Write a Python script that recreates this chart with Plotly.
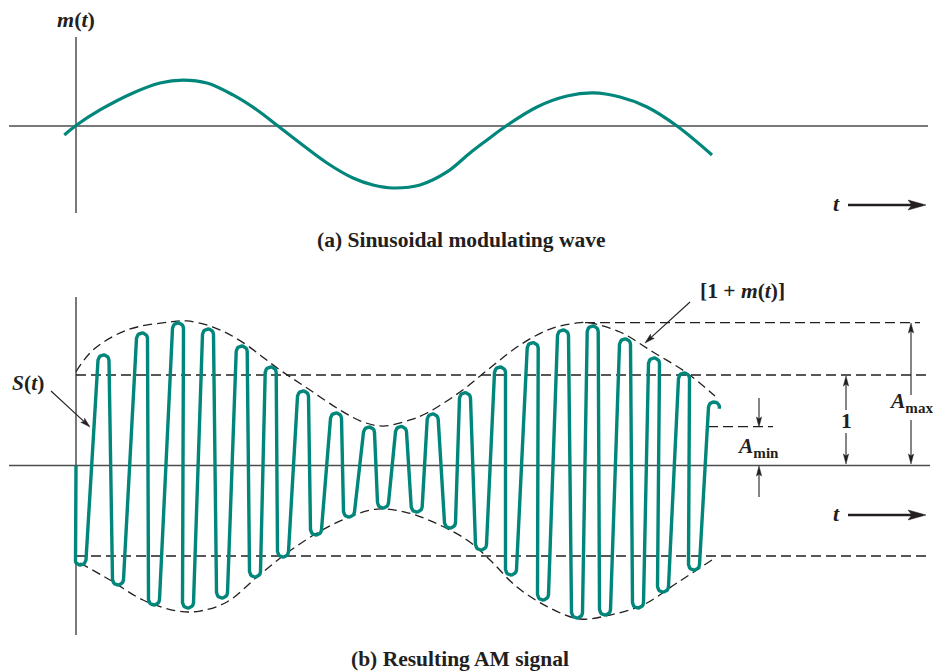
import math
import plotly.graph_objects as go

W, H = 941, 671
OFF = 8  # page body margin offset (px)

# ---------------- data ----------------
# (a) modulating wave m(t): time t, value m
m_t = [-0.117, 0.007, 0.24, 0.57, 0.84, 1.07, 1.31, 1.57, 1.81, 2.02, 2.24, 2.51,
       2.77, 2.97, 3.17, 3.44, 3.71, 3.94, 4.11, 4.30, 4.61, 4.91, 5.17, 5.44,
       5.71, 6.01, 6.36]
m_val = [-0.099, 0.011, 0.177, 0.365, 0.475, 0.508, 0.475, 0.343, 0.177, 0.0,
         -0.188, -0.409, -0.575, -0.652, -0.685, -0.652, -0.508, -0.298, -0.155,
         0.0, 0.210, 0.331, 0.365, 0.320, 0.210, 0.0, -0.320]

# (b) AM signal: start point then alternating trough / peak of the carrier
carrier_t = [0.0, 0.045, 0.275, 0.42, 0.66, 0.78, 1.02, 1.12, 1.32, 1.46, 1.657,
             1.79, 1.947, 2.07, 2.27, 2.40, 2.60, 2.73, 2.93, 3.07, 3.25, 3.407,
             3.567, 3.74, 3.89, 4.05, 4.24, 4.35, 4.567, 4.67, 4.87, 5.01, 5.167,
             5.29, 5.49, 5.62, 5.78, 5.87, 6.08, 6.18, 6.38]
carrier_s = [0.0, -1.099, 1.221, -1.320, 1.464, -1.541, 1.575, -1.575, 1.508,
             -1.464, 1.320, -1.232, 1.088, -1.011, 0.823, -0.768, 0.580, -0.569,
             0.425, -0.470, 0.431, -0.514, 0.569, -0.691, 0.804, -0.934, 1.088,
             -1.210, 1.357, -1.486, 1.497, -1.685, 1.541, -1.652, 1.398, -1.575,
             1.188, -1.398, 1.022, -1.155, 0.702]

# envelope [1 + m(t)] (upper) and its mirror (lower)
env_up_t = [0.0, 0.17, 0.51, 0.94, 1.11, 1.37, 1.64, 2.04, 2.34, 2.64, 2.87, 3.07,
            3.34, 3.51, 3.84, 4.14, 4.44, 4.74, 5.01, 5.14, 5.44, 5.77, 6.11, 6.39]
env_up_s = [1.036, 1.276, 1.497, 1.586, 1.597, 1.530, 1.380, 1.055, 0.834, 0.613,
            0.481, 0.436, 0.503, 0.580, 0.812, 1.077, 1.331, 1.508, 1.575, 1.575,
            1.475, 1.254, 1.022, 0.768]
env_lo_t = [0.04, 0.34, 0.67, 1.01, 1.24, 1.51, 1.81, 2.11, 2.41, 2.71, 3.01, 3.29,
            3.57, 3.91, 4.14, 4.41, 4.74, 5.04, 5.34, 5.67, 6.01, 6.36]
env_lo_s = [-1.077, -1.265, -1.486, -1.608, -1.608, -1.508, -1.232, -0.967, -0.746,
            -0.580, -0.481, -0.514, -0.624, -0.823, -1.044, -1.343, -1.575, -1.696,
            -1.652, -1.541, -1.298, -1.044]

LEVEL_ONE = 1.0
A_MAX = 1.578
A_MIN = 0.429

# ---------------- layout geometry (page pixels) ----------------
X0_PX = 76.0           # page column of t = 0
SX = 100.0             # px per t unit
SY = 90.5              # px per amplitude unit
A_AXIS_PX = 126.0      # page row of m = 0
B_AXIS_PX = 465.5      # page row of s = 0
A_TOP, A_BOT = 30, 250
B_TOP, B_BOT = 280, 650

TEAL = "#00867b"
INK = "#231f20"
AXC = "#4d4d4f"
FONT = "Liberation Serif"


def P(x, y):
    """page pixel -> paper fraction"""
    return (x - OFF) / W, 1 - (y - OFF) / H


def tx(px):
    return (px - X0_PX) / SX


# ---------------- carrier with rounded tips ----------------
R = 5.5
pts = [(t * SX, s * SY) for t, s in zip(carrier_t, carrier_s)]
circles = [(pts[0], 0.0, 0)]
for k, (X, Y) in enumerate(pts[1:]):
    if carrier_s[k + 1] < 0:
        circles.append(((X, Y + R), R, +1))
    else:
        circles.append(((X, Y - R), R, -1))


def tangent(c1, c2):
    (o1, r1, s1), (o2, r2, s2) = c1, c2
    dx, dy = o2[0] - o1[0], o2[1] - o1[1]
    c = s2 * r2 - s1 * r1
    lam = math.sqrt(max(dx * dx + dy * dy - c * c, 1e-9))
    phi = math.atan2(dy, dx) - math.atan2(c, lam)
    lx, ly = -math.sin(phi), math.cos(phi)
    t1 = (o1[0] - s1 * r1 * lx, o1[1] - s1 * r1 * ly)
    t2 = (o2[0] - s2 * r2 * lx, o2[1] - s2 * r2 * ly)
    return t1, t2


segs = [tangent(circles[i], circles[i + 1]) for i in range(len(circles) - 1)]
path = [segs[0][0]]
for i in range(1, len(circles)):
    (o, r, sgn) = circles[i]
    tin = segs[i - 1][1]
    path.append(tin)
    a_in = math.atan2(tin[1] - o[1], tin[0] - o[0])
    if i < len(circles) - 1:
        tout = segs[i][0]
        a_out = math.atan2(tout[1] - o[1], tout[0] - o[0])
    else:
        a_out = -0.25
    if sgn > 0:
        while a_out < a_in:
            a_out += 2 * math.pi
    else:
        while a_out > a_in:
            a_out -= 2 * math.pi
    n = 14
    for j in range(1, n + 1):
        a = a_in + (a_out - a_in) * j / n
        path.append((o[0] + r * math.cos(a), o[1] + r * math.sin(a)))

sig_t = [p[0] / SX for p in path]
sig_s = [p[1] / SY for p in path]

# ---------------- figure ----------------
fig = go.Figure()

fig.add_trace(go.Scatter(x=m_t, y=m_val, mode="lines", line_shape="spline",
                         line=dict(color=TEAL, width=3.2), xaxis="x", yaxis="y",
                         hoverinfo="skip"))
fig.add_trace(go.Scatter(x=env_up_t, y=env_up_s, mode="lines", line_shape="spline",
                         line=dict(color=INK, width=1.3, dash="9px,5px"),
                         xaxis="x2", yaxis="y2", hoverinfo="skip"))
fig.add_trace(go.Scatter(x=env_lo_t, y=env_lo_s, mode="lines", line_shape="spline",
                         line=dict(color=INK, width=1.3, dash="9px,5px"),
                         xaxis="x2", yaxis="y2", hoverinfo="skip"))
fig.add_trace(go.Scatter(x=sig_t, y=sig_s, mode="lines",
                         line=dict(color=TEAL, width=3.4), xaxis="x2", yaxis="y2",
                         hoverinfo="skip"))

xr = [tx(OFF), tx(OFF + W)]
ya = [(A_AXIS_PX - A_BOT) / SY, (A_AXIS_PX - A_TOP) / SY]
yb = [(B_AXIS_PX - B_BOT) / SY, (B_AXIS_PX - B_TOP) / SY]

shapes = []


def hline(xref, yref, t0, t1, yv, color, width, dash=None):
    shapes.append(dict(type="line", xref=xref, yref=yref, x0=t0, x1=t1, y0=yv, y1=yv,
                       line=dict(color=color, width=width, dash=dash), layer="below"))


def vline(xref, yref, tv, y0, y1, color, width):
    shapes.append(dict(type="line", xref=xref, yref=yref, x0=tv, x1=tv, y0=y0, y1=y1,
                       line=dict(color=color, width=width), layer="below"))


# panel (a) axes
hline("x", "y", tx(9), tx(928), 0, AXC, 1.5)
vline("x", "y", 0, (A_AXIS_PX - 213) / SY, (A_AXIS_PX - 37) / SY, AXC, 1.5)
# panel (b) axes
hline("x2", "y2", tx(9), tx(930), 0, AXC, 1.5)
vline("x2", "y2", 0, (B_AXIS_PX - 635) / SY, (B_AXIS_PX - 297) / SY, AXC, 1.5)
# reference levels
hline("x2", "y2", 0, tx(927), LEVEL_ONE, INK, 1.3, "10px,5px")
hline("x2", "y2", 0, tx(930), -LEVEL_ONE, INK, 1.3, "10px,5px")
hline("x2", "y2", tx(585), tx(920), A_MAX, INK, 1.3, "10px,5px")
hline("x2", "y2", tx(708), tx(773), A_MIN, INK, 1.3, "10px,5px")


def arrow(x0, y0, x1, y1, w, hl, hw, notch):
    dx, dy = x1 - x0, y1 - y0
    L = math.hypot(dx, dy)
    ux, uy = dx / L, dy / L
    nx, ny = -uy, ux
    bx, by = x1 - ux * (hl - notch), y1 - uy * (hl - notch)
    a, b = P(x0, y0), P(bx, by)
    shapes.append(dict(type="line", xref="paper", yref="paper", x0=a[0], y0=a[1],
                       x1=b[0], y1=b[1], line=dict(color=INK, width=w)))
    tip = P(x1, y1)
    bk1 = P(x1 - ux * hl + nx * hw, y1 - uy * hl + ny * hw)
    nk = P(x1 - ux * (hl - notch), y1 - uy * (hl - notch))
    bk2 = P(x1 - ux * hl - nx * hw, y1 - uy * hl - ny * hw)
    pth = "M{},{} L{},{} L{},{} L{},{} Z".format(tip[0], tip[1], bk1[0], bk1[1],
                                                 nk[0], nk[1], bk2[0], bk2[1])
    shapes.append(dict(type="path", xref="paper", yref="paper", path=pth,
                       fillcolor=INK, line=dict(color=INK, width=0.5)))


# t arrows
arrow(848, 205, 926, 205, 2.6, 18, 5, 4)
arrow(848, 515, 926, 515, 2.6, 18, 5, 4)
# pointer arrows
arrow(51, 391, 90, 427, 1.1, 10, 2.8, 2)
arrow(690, 302, 645, 343, 1.1, 10, 2.8, 2)
# A_max
arrow(911, 395, 911, 323, 1.1, 10, 2.6, 2)
arrow(911, 420, 911, 464, 1.1, 10, 2.6, 2)
# 1
arrow(846, 410, 846, 376, 1.1, 10, 2.6, 2)
arrow(846, 433, 846, 464, 1.1, 10, 2.6, 2)
# A_min
arrow(759, 398, 759, 427, 1.1, 10, 2.6, 2)
arrow(759, 497, 759, 466, 1.1, 10, 2.6, 2)

annotations = []


def label(x, y, text, size=21, xanchor="center"):
    px, py = P(x, y)
    annotations.append(dict(x=px, y=py, xref="paper", yref="paper", text=text,
                            showarrow=False, xanchor=xanchor, yanchor="middle",
                            font=dict(family=FONT, size=size, color=INK)))


label(76, 20, "<b><i>m</i>(<i>t</i>)</b>", 22)
label(836, 204, "<b><i>t</i></b>", 22)
label(461, 240, "<b>(a) Sinusoidal modulating wave</b>", 21.5)
label(836, 514, "<b><i>t</i></b>", 22)
label(460, 659, "<b>(b) Resulting AM signal</b>", 21.5)
label(28, 383, "<b><i>S</i>(<i>t</i>)</b>", 21.5)
label(742, 291, "<b>[1 + <i>m</i>(<i>t</i>)]</b>", 21.5)
label(846, 421, "<b>1</b>", 21.5)
label(911, 402, "<b><i>A</i><sub>max</sub></b>", 21.5)
label(758, 447, "<b><i>A</i><sub>min</sub></b>", 21.5)

ax_common = dict(visible=False, showgrid=False, zeroline=False, fixedrange=True)
fig.update_layout(
    width=W, height=H,
    margin=dict(l=0, r=0, t=0, b=0),
    paper_bgcolor="white", plot_bgcolor="rgba(0,0,0,0)",
    showlegend=False,
    xaxis=dict(range=xr, domain=[0, 1], **ax_common),
    yaxis=dict(range=ya, domain=[1 - (A_BOT - OFF) / H, 1 - (A_TOP - OFF) / H], **ax_common),
    xaxis2=dict(range=xr, domain=[0, 1], anchor="y2", **ax_common),
    yaxis2=dict(range=yb, domain=[1 - (B_BOT - OFF) / H, 1 - (B_TOP - OFF) / H],
                anchor="x2", **ax_common),
    shapes=shapes,
    annotations=annotations,
)

fig.write_html("out.html")
